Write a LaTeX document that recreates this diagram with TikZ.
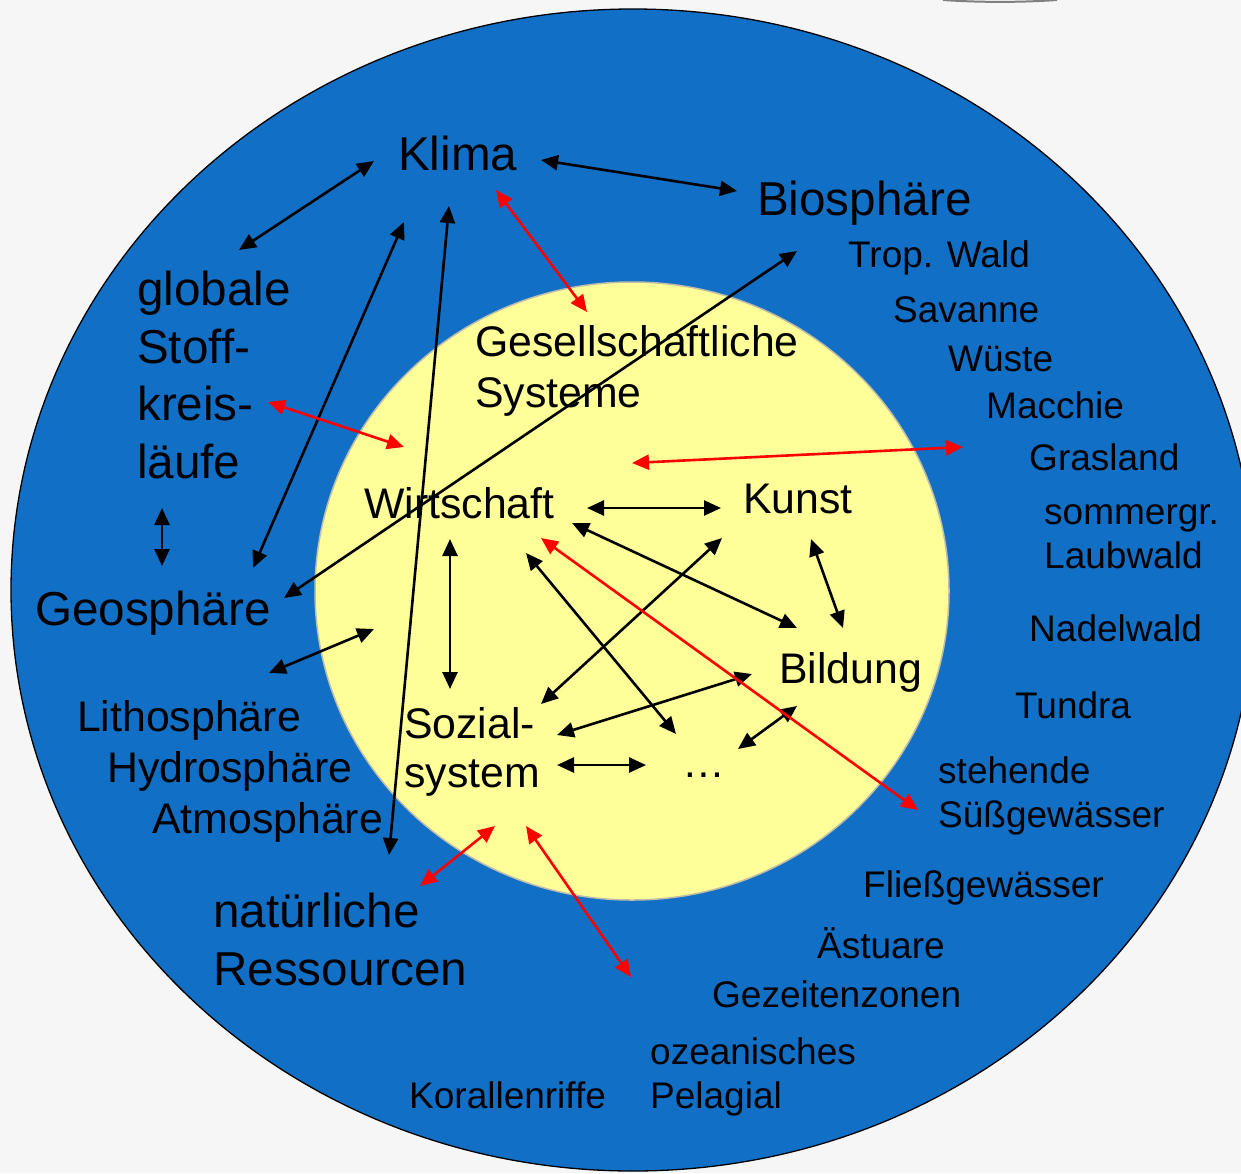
\documentclass[tikz,border=0pt]{standalone}
\usepackage{fontspec}
\setmainfont{Liberation Sans}
\usetikzlibrary{arrows.meta}
\definecolor{outerblue}{RGB}{17,111,197}
\definecolor{inneryellow}{RGB}{255,255,153}
\definecolor{bgcol}{RGB}{246,246,246}
\definecolor{rimgray}{RGB}{190,188,170}
\begin{document}
\begin{tikzpicture}[x=1pt,y=-1pt,
  lbl/.style={anchor=base west, inner sep=0pt, text=black},
  big/.style={lbl, font=\fontsize{47.6}{56}\selectfont},
  mid/.style={lbl, font=\fontsize{42.8}{50}\selectfont},
  small/.style={lbl, font=\fontsize{37}{44}\selectfont},
  link/.style={line width=2.6pt, {Triangle[length=17pt,width=15pt]}-{Triangle[length=17pt,width=15pt]}},
  blk/.style={link, draw=black},
  rd/.style={link, draw=red}]
% background and bounding box
\fill[bgcol] (0,0) rectangle (1241,1173);
\useasboundingbox (0,0) rectangle (1241,1173);
\draw[gray, line width=2pt] (943,0) .. controls (980,2.5) and (1020,2.5) .. (1057,0);
% circles
\filldraw[fill=outerblue, draw=black, line width=1.3pt] (633,590) ellipse [x radius=622, y radius=581];
\filldraw[fill=inneryellow, draw=rimgray, line width=1.5pt] (632,591) ellipse [x radius=317, y radius=309];
% outer labels
\node[big] (klima) at (398,170) {Klima};
\node[big] (bio) at (757,215) {Biosphäre};
\node[big] (glob1) at (137,305) {globale};
\node[big] (glob2) at (137,363) {Stoff-};
\node[big] (glob3) at (137,420) {kreis-};
\node[big] (glob4) at (137,478) {läufe};
\node[big] (geo) at (35,625) {Geosphäre};
\node[big] (nat1) at (213,927) {natürliche};
\node[big] (nat2) at (213,985) {Ressourcen};
\node[mid] (litho) at (77,731) {Lithosphäre};
\node[mid] (hydro) at (107,782) {Hydrosphäre};
\node[mid] (atmo) at (152,833) {Atmosphäre};
% biomes
\node[small] (b1) at (848,267) {Trop. Wald};
\node[small] (b2) at (893,322) {Savanne};
\node[small] (b3) at (948,371) {Wüste};
\node[small] (b4) at (986,418) {Macchie};
\node[small] (b5) at (1029,470) {Grasland};
\node[small] (b6) at (1044,524) {sommergr.};
\node[small] (b7) at (1044,568) {Laubwald};
\node[small] (b8) at (1029,641) {Nadelwald};
\node[small] (b9) at (1015,718) {Tundra};
\node[small] (b10) at (938,783) {stehende};
\node[small] (b11) at (938,827) {Süßgewässer};
\node[small] (b12) at (863,897) {Fließgewässer};
\node[small] (b13) at (817,958) {Ästuare};
\node[small] (b14) at (712,1007) {Gezeitenzonen};
\node[small] (b15) at (650,1064) {ozeanisches};
\node[small] (b16) at (650,1108) {Pelagial};
\node[small] (b17) at (409,1108) {Korallenriffe};
% inner labels
\node[mid] (ges1) at (475,356) {Gesellschaftliche};
\node[mid] (ges2) at (475,407) {Systeme};
\node[mid] (wirt) at (364,518) {Wirtschaft};
\node[mid] (kunst) at (743,513) {Kunst};
\node[mid] (bild) at (779,683) {Bildung};
\node[mid] (soz1) at (404,738) {Sozial-};
\node[mid] (soz2) at (404,787) {system};
\node[mid] (dots) at (682,777) {…};
% connector end points
\coordinate (kg1) at (374,161); \coordinate (kg2) at (239,250);
\coordinate (kb1) at (541,160); \coordinate (kb2) at (737,191);
\coordinate (kge1) at (404,222); \coordinate (kge2) at (253,568);
\coordinate (kn1) at (449,206); \coordinate (kn2) at (389,855);
\coordinate (bg1) at (797,251); \coordinate (bg2) at (284,598);
\coordinate (gg1) at (162,508); \coordinate (gg2) at (162,566);
\coordinate (gl1) at (374,629); \coordinate (gl2) at (269,673);
\coordinate (wk1) at (587,508); \coordinate (wk2) at (721,508);
\coordinate (ws1) at (450,539); \coordinate (ws2) at (450,689);
\coordinate (wb1) at (572,523); \coordinate (wb2) at (797,628);
\coordinate (wd1) at (526,553); \coordinate (wd2) at (676,734);
\coordinate (ks1) at (722,538); \coordinate (ks2) at (541,704);
\coordinate (kbi1) at (811,539); \coordinate (kbi2) at (843,628);
\coordinate (sb1) at (557,735); \coordinate (sb2) at (752,674);
\coordinate (sd1) at (557,765); \coordinate (sd2) at (646,765);
\coordinate (db1) at (738,749); \coordinate (db2) at (797,706);
\coordinate (r1a) at (496,190); \coordinate (r1b) at (587,312);
\coordinate (r2a) at (268,402); \coordinate (r2b) at (404,447);
\coordinate (r3a) at (632,463); \coordinate (r3b) at (963,447);
\coordinate (r4a) at (541,538); \coordinate (r4b) at (918,810);
\coordinate (r5a) at (495,826); \coordinate (r5b) at (420,886);
\coordinate (r6a) at (526,826); \coordinate (r6b) at (631,977);
% black connectors
\draw[blk] (kg1) -- (kg2);
\draw[blk] (kb1) -- (kb2);
\draw[blk] (kge1) -- (kge2);
\draw[blk] (kn1) -- (kn2);
\draw[blk] (bg1) -- (bg2);
\draw[blk] (gg1) -- (gg2);
\draw[blk] (gl1) -- (gl2);
\draw[blk] (wk1) -- (wk2);
\draw[blk] (ws1) -- (ws2);
\draw[blk] (wb1) -- (wb2);
\draw[blk] (wd1) -- (wd2);
\draw[blk] (ks1) -- (ks2);
\draw[blk] (kbi1) -- (kbi2);
\draw[blk] (sb1) -- (sb2);
\draw[blk] (sd1) -- (sd2);
\draw[blk] (db1) -- (db2);
% red connectors
\draw[rd] (r1a) -- (r1b);
\draw[rd] (r2a) -- (r2b);
\draw[rd] (r3a) -- (r3b);
\draw[rd] (r4a) -- (r4b);
\draw[rd] (r5a) -- (r5b);
\draw[rd] (r6a) -- (r6b);
\end{tikzpicture}
\end{document}
